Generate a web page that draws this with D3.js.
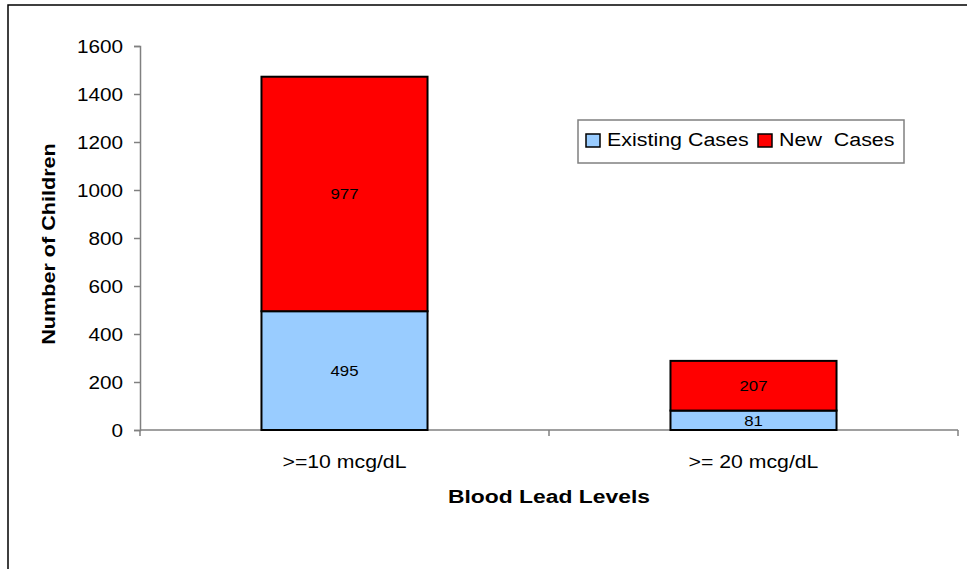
<!DOCTYPE html>
<html><head><meta charset="utf-8">
<script src="https://cdn.jsdelivr.net/npm/d3@7"></script>
<style>body{margin:0;background:#fff}svg{display:block}text{font-family:"Liberation Sans",Arial,sans-serif}</style>
</head><body>
<svg id="c" width="967" height="569"></svg>
<script>
const categories = [">=10 mcg/dL", ">= 20 mcg/dL"];
const seriesNames = ["Existing Cases", "New Cases"];
const existingCases = [495, 81];
const newCases = [977, 207];
const yTicks = [0, 200, 400, 600, 800, 1000, 1200, 1400, 1600];
const colors = ["#99CCFF", "#FF0000"];

const svg = d3.select("#c");
const SX = 1.18;
function stretch(sel, f) {
  sel.each(function() {
    const n = this.getComputedTextLength();
    d3.select(this).attr("textLength", n * (f || SX)).attr("lengthAdjust", "spacingAndGlyphs");
  });
}

// outer frame
svg.append("rect").attr("x", 8).attr("y", 5).attr("width", 1000).attr("height", 600)
  .attr("fill", "none").attr("stroke", "#000").attr("stroke-width", 1.5);

const x = d3.scaleBand().domain(categories).range([140, 958]).paddingInner(0.594).paddingOuter(0.297);
const y = d3.scaleLinear().domain([0, 1600]).range([430, 46]);

const stack = d3.stack().keys([0, 1]).value((d, k) => d[k]);
const rows = categories.map((c, i) => ({cat: c, 0: existingCases[i], 1: newCases[i]}));
const layers = stack(rows);

// y axis
const yAxis = svg.append("g").attr("transform", "translate(140,0)")
  .call(d3.axisLeft(y).tickValues(yTicks).tickFormat(d3.format("d")).tickSize(6).tickPadding(11));
yAxis.select(".domain").attr("stroke", "#808080").attr("stroke-width", 1.5);
yAxis.selectAll(".tick line").attr("stroke", "#808080").attr("stroke-width", 1.5);
yAxis.selectAll(".tick text").attr("font-size", 18).attr("fill", "#000")
  .attr("font-family", "Liberation Sans, Arial, sans-serif").attr("dy", "0.36em");
stretch(yAxis.selectAll(".tick text"), 1.15);

// x axis
const xLin = d3.scaleLinear().domain([0, 2]).range([140, 958]);
const xAxis = svg.append("g").attr("transform", "translate(0,430)");
xAxis.append("line").attr("x1", 140).attr("x2", 958).attr("stroke", "#808080").attr("stroke-width", 1.5);
xAxis.selectAll("line.t").data([0, 1, 2]).enter().append("line").attr("class", "t")
  .attr("x1", d => xLin(d)).attr("x2", d => xLin(d)).attr("y1", 0).attr("y2", 6)
  .attr("stroke", "#808080").attr("stroke-width", 1.5);
const xl = xAxis.selectAll("text.c").data(categories).enter().append("text").attr("class", "c")
  .attr("x", d => x(d) + x.bandwidth() / 2).attr("y", 38).attr("text-anchor", "middle")
  .attr("font-size", 18).text(d => d);
stretch(xl);

// bars
layers.forEach((layer, k) => {
  svg.append("g").selectAll("rect").data(layer).enter().append("rect")
    .attr("x", d => x(d.data.cat)).attr("width", x.bandwidth())
    .attr("y", d => y(d[1])).attr("height", d => y(d[0]) - y(d[1]))
    .attr("fill", colors[k]).attr("stroke", "#000").attr("stroke-width", 2);
  const lab = svg.append("g").selectAll("text").data(layer).enter().append("text")
    .attr("x", d => x(d.data.cat) + x.bandwidth() / 2)
    .attr("y", d => (y(d[0]) + y(d[1])) / 2).attr("dy", "0.36em")
    .attr("text-anchor", "middle").attr("font-size", 15).attr("fill", "#000")
    .text(d => d.data[k]);
  stretch(lab, 1.12);
});

// axis titles
const yt = svg.append("text").attr("transform", "translate(55,244) rotate(-90)")
  .attr("text-anchor", "middle").attr("font-size", 18).attr("font-weight", "bold").text("Number of Children");
stretch(yt, 1.2);
const xt = svg.append("text").attr("x", 549).attr("y", 503)
  .attr("text-anchor", "middle").attr("font-size", 18).attr("font-weight", "bold").text("Blood Lead Levels");
stretch(xt, 1.27);

// legend
const lg = svg.append("g");
lg.append("rect").attr("x", 578).attr("y", 120).attr("width", 326).attr("height", 43)
  .attr("fill", "#fff").attr("stroke", "#808080").attr("stroke-width", 1.5);
const legX = [586, 758];
seriesNames.forEach((s, k) => {
  lg.append("rect").attr("x", legX[k]).attr("y", 134).attr("width", 14).attr("height", 13)
    .attr("fill", colors[k]).attr("stroke", "#000").attr("stroke-width", 1.5);
  const t = lg.append("text").attr("x", legX[k] + 21).attr("y", 146).attr("font-size", 18)
    .style("white-space", "pre").text(k === 1 ? "New  Cases" : s);
  stretch(t, 1.19);
});
</script>
</body></html>
